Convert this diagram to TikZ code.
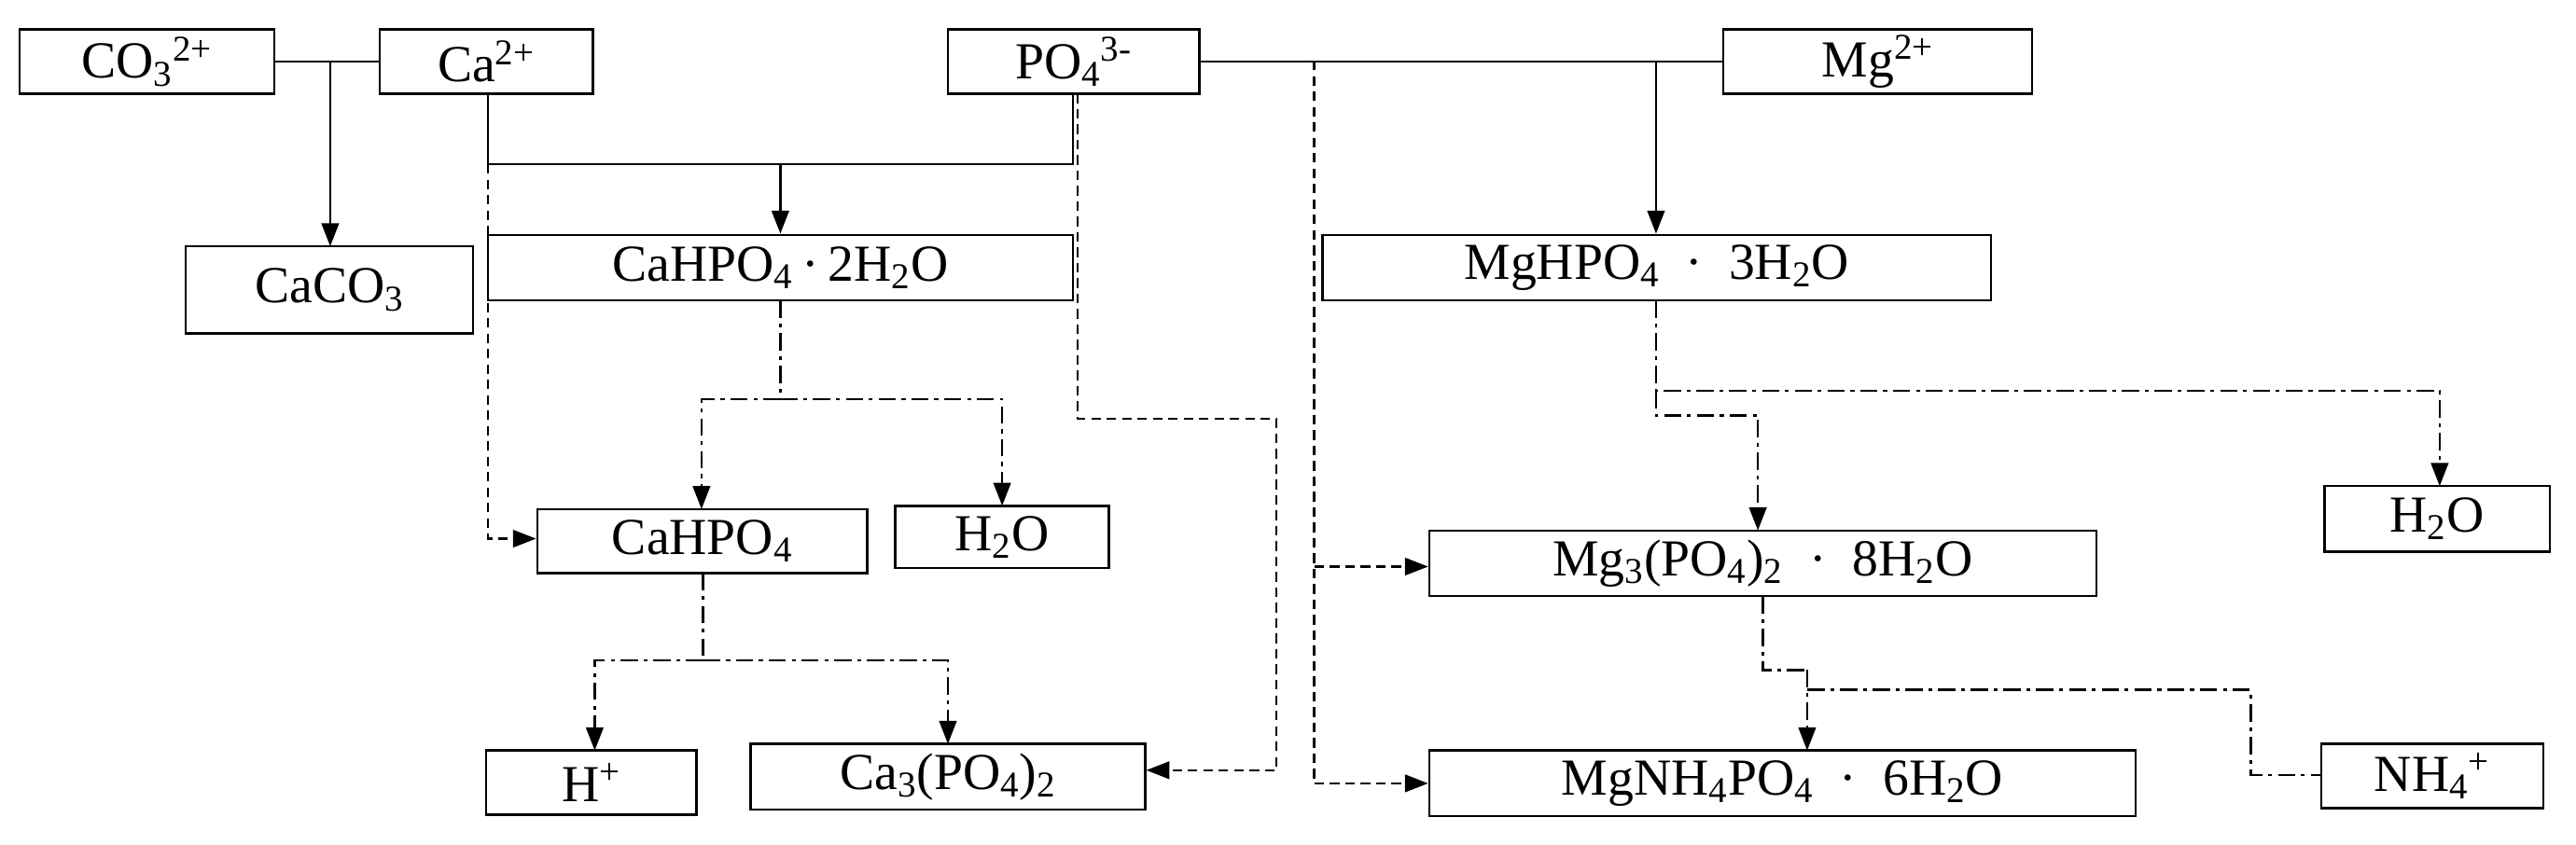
\documentclass[tikz,border=0pt]{standalone}
\usepackage{fontspec}
\setmainfont{Liberation Serif}
\usetikzlibrary{arrows.meta}
\begin{document}
\begin{tikzpicture}[x=0.03cm,y=-0.03cm,
  bx/.style={draw,line width=1.2pt,inner sep=0pt,font=\fontsize{27}{30}\selectfont},
  ln/.style={line width=1.2pt},
  ar/.style={ln,-{Triangle[length=12pt,width=9pt]}},
  dsh/.style={dash pattern=on 5pt off 3pt},
  dd/.style={dash pattern=on 9pt off 3pt on 2pt off 3pt}]
\useasboundingbox (0,0) rectangle (1568,514);
\newcommand\bbox[6]{\node[bx,minimum width={(#4-#2)*0.03cm},minimum height={(#5-#3)*0.03cm}] (#1) at ({(#2+#4)/2},{(#3+#5)/2}) {#6};}
\bbox{co}{12}{18}{167}{57}{CO\textsubscript{3}\textsuperscript{2+}}
\bbox{ca}{231}{18}{361}{57}{Ca\textsuperscript{2+}}
\bbox{po}{577}{18}{730}{57}{PO\textsubscript{4}\textsuperscript{3-}}
\bbox{mg}{1049}{18}{1237}{57}{Mg\textsuperscript{2+}}
\bbox{caco}{113}{150}{288}{203}{CaCO\textsubscript{3}}
\bbox{cah2}{297}{143}{653}{183}{CaHPO\textsubscript{4}\,·\,2H\textsubscript{2}O}
\bbox{mgh3}{805}{143}{1212}{183}{MgHPO\textsubscript{4}\ \ ·\ \ 3H\textsubscript{2}O}
\bbox{cah}{327}{310}{528}{349}{CaHPO\textsubscript{4}}
\bbox{wa}{545}{308}{675}{346}{H\textsubscript{2}O}
\bbox{mg3}{870}{323}{1276}{363}{Mg\textsubscript{3}(PO\textsubscript{4})\textsubscript{2}\ \ ·\ \ 8H\textsubscript{2}O}
\bbox{wb}{1415}{296}{1552}{336}{H\textsubscript{2}O}
\bbox{hp}{296}{457}{424}{496}{H\textsuperscript{+}}
\bbox{ca3}{457}{453}{697}{493}{Ca\textsubscript{3}(PO\textsubscript{4})\textsubscript{2}}
\bbox{mgn}{870}{457}{1300}{497}{MgNH\textsubscript{4}PO\textsubscript{4}\ \ ·\ \ 6H\textsubscript{2}O}
\bbox{nh}{1413}{453}{1548}{492}{NH\textsubscript{4}\textsuperscript{+}}
% solid
\draw[ln] (co.east) -- (ca.west);
\draw[ar] (201,37) -- (201,150);
\draw[ln] (297,57) -- (297,100) -- (653,100) -- (653,57);
\draw[ar] (475,100) -- (cah2.north -| 475,0);
\draw[ln] (po.east) -- (mg.west);
\draw[ar] (1008,37) -- (mgh3.north -| 1008,0);
% dashed
\draw[ar,dsh] (297,100) -- (297,328) -- (cah.west |- 0,328);
\draw[ar,dsh] (656,57) -- (656,255) -- (777,255) -- (777,469) -- (ca3.east |- 0,469);
\draw[ln,dsh] (800,37) -- (800,477);
\draw[ar,dsh] (800,345) -- (mg3.west |- 0,345);
\draw[ar,dsh] (800,477) -- (mgn.west |- 0,477);
% dash-dot
\draw[ln,dd] (475,183) -- (475,243);
\draw[ar,dd] (475,243) -- (427,243) -- (427,310);
\draw[ar,dd] (475,243) -- (610,243) -- (610,308);
\draw[ln,dd] (428,349) -- (428,402);
\draw[ar,dd] (428,402) -- (362,402) -- (362,457);
\draw[ar,dd] (428,402) -- (577,402) -- (577,453);
\draw[ar,dd] (1008,183) -- (1008,238) -- (1485,238) -- (1485,296);
\draw[ar,dd] (1008,238) -- (1008,253) -- (1070,253) -- (1070,323);
\draw[ln,dd] (1073,363) -- (1073,408) -- (1100,408);
\draw[ar,dd] (1100,408) -- (1100,457);
\draw[ln,dd] (1100,420) -- (1370,420) -- (1370,472) -- (nh.west |- 0,472);
\end{tikzpicture}
\end{document}
